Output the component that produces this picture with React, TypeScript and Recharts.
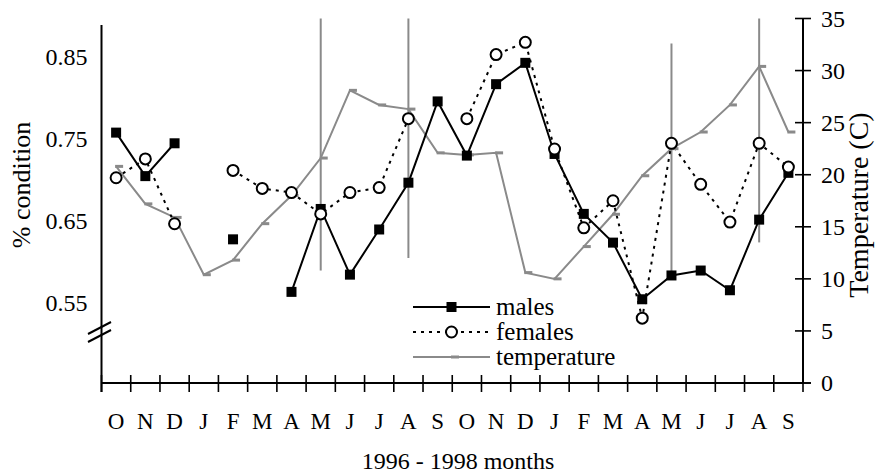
import React from 'react';
import { ComposedChart, Line, XAxis, YAxis, ReferenceLine, Legend } from 'recharts';

const months = [
  'Oct96', 'Nov96', 'Dec96', 'Jan97', 'Feb97', 'Mar97', 'Apr97', 'May97', 'Jun97', 'Jul97', 'Aug97', 'Sep97',
  'Oct97', 'Nov97', 'Dec97', 'Jan98', 'Feb98', 'Mar98', 'Apr98', 'May98', 'Jun98', 'Jul98', 'Aug98', 'Sep98',
];
const monthLetters = ['O', 'N', 'D', 'J', 'F', 'M', 'A', 'M', 'J', 'J', 'A', 'S', 'O', 'N', 'D', 'J', 'F', 'M', 'A', 'M', 'J', 'J', 'A', 'S'];

const males = [0.758, 0.705, 0.745, null, 0.628, null, 0.564, 0.665, 0.585, 0.64, 0.697, 0.796, 0.73, 0.817, 0.843, 0.732, 0.659, 0.624, 0.555, 0.584, 0.59, 0.566, 0.652, 0.709];
const females = [0.703, 0.726, 0.647, null, 0.712, 0.69, 0.685, 0.659, 0.685, 0.691, 0.775, null, 0.775, 0.853, 0.868, 0.738, 0.642, 0.675, 0.532, 0.745, 0.695, 0.649, 0.745, 0.716];
const temperature = [20.8, 17.2, 15.9, 10.4, 11.8, 15.3, 18.0, 21.6, 28.1, 26.7, 26.3, 22.1, 21.9, 22.1, 10.6, 10.0, 13.1, 16.2, 19.9, 22.5, 24.1, 26.7, 30.4, 24.1];

// vertical range lines on the temperature scale
const rangeMonths = ['May97', 'Aug97', 'May98', 'Aug98'];
const rangeLow = [10.8, 12.0, 10.3, 13.5];
const rangeHigh = [35, 35, 32.6, 35];

const condTicks = [0.55, 0.65, 0.75, 0.85];
const tempTicks = [0, 5, 10, 15, 20, 25, 30, 35];

const data = months.map((m, i) => ({
  idx: i,
  month: m,
  males: males[i],
  females: females[i],
  temperature: temperature[i],
}));
const monthIdx = months.map((_, i) => i);

const W = 877;
const H = 473;
const TOP = 18.5;
const BOTTOM = 383;
const LEFT_W = 101.5;
const RIGHT_W = 74;
const PLOT_W = W - LEFT_W - RIGHT_W;
const BAND = PLOT_W / months.length;
const FONT = "'Liberation Serif', 'DejaVu Serif', serif";
const GREY = '#8a8a8a';

const txt = (size: number) => ({ fontFamily: FONT, fontSize: size });

const MonthTick = (props: any) => {
  const { x, y, payload } = props;
  const i = payload.value;
  return (
    <text x={x} y={y + 46} textAnchor="middle" style={txt(23)} fill="#000">
      {monthLetters[i]}
    </text>
  );
};

const CondTick = (props: any) => {
  const { x, y, payload } = props;
  return (
    <text x={x} y={y + 8} textAnchor="end" style={txt(24)} fill="#000">
      {payload.value.toFixed(2)}
    </text>
  );
};

const TempTick = (props: any) => {
  const { x, y, payload } = props;
  return (
    <g>
      <line x1={x - 8} x2={x + 8} y1={y} y2={y} stroke="#000" strokeWidth={1.6} />
      <text x={x + 18} y={y + 8} textAnchor="start" style={txt(24)} fill="#000">
        {payload.value}
      </text>
    </g>
  );
};

const MaleDot = (props: any) => {
  const { cx, cy, value, index } = props;
  if (value == null || cx == null || cy == null) return <g key={`m-${index}`} />;
  return <rect key={`m-${index}`} x={cx - 5} y={cy - 5} width={10} height={10} fill="#000" />;
};

const FemaleDot = (props: any) => {
  const { cx, cy, value, index } = props;
  if (value == null || cx == null || cy == null) return <g key={`f-${index}`} />;
  return <circle key={`f-${index}`} cx={cx} cy={cy} r={5.5} fill="#fff" stroke="#000" strokeWidth={2} />;
};

const TempDot = (props: any) => {
  const { cx, cy, index } = props;
  if (cx == null || cy == null) return <g key={`t-${index}`} />;
  return <rect key={`t-${index}`} x={cx - 1} y={cy - 1.5} width={8} height={3} fill={GREY} />;
};

const legendOrder = ['males', 'females', 'temperature'];

const renderLegend = (props: any) => {
  const payload = props.payload || [];
  const items = legendOrder.map((k) => payload.find((p: any) => p.dataKey === k)).filter(Boolean);
  return (
    <svg width={230} height={80}>
      {items.map((item: any, i: number) => {
        const y = 17 + i * 25;
        const key = item.dataKey;
        return (
          <g key={key}>
            {key === 'males' && (
              <>
                <line x1={8} x2={85} y1={y} y2={y} stroke="#000" strokeWidth={2} />
                <rect x={41.5} y={y - 5} width={10} height={10} fill="#000" />
              </>
            )}
            {key === 'females' && (
              <>
                <line x1={8} x2={85} y1={y} y2={y} stroke="#000" strokeWidth={2} strokeDasharray="3 5" />
                <circle cx={46.5} cy={y} r={5.5} fill="#fff" stroke="#000" strokeWidth={2} />
              </>
            )}
            {key === 'temperature' && (
              <>
                <line x1={8} x2={85} y1={y} y2={y} stroke={GREY} strokeWidth={2} />
                <rect x={46} y={y - 1.5} width={8} height={3} fill={GREY} />
              </>
            )}
            <text x={91} y={y + 8} style={txt(25)} fill="#000">
              {item.value}
            </text>
          </g>
        );
      })}
    </svg>
  );
};

export default function App() {
  return (
    <div style={{ position: 'absolute', left: 0, top: 0, width: W, height: H, background: '#fff' }}>
      <ComposedChart width={W} height={H} data={data} margin={{ top: TOP, right: 0, bottom: 0, left: 0 }}>
        <XAxis
          dataKey="idx"
          type="number"
          domain={[-0.5, months.length - 0.5]}
          ticks={monthIdx}
          interval={0}
          allowDataOverflow
          height={H - BOTTOM}
          tickLine={false}
          tickSize={0}
          tickMargin={0}
          axisLine={false}
          tick={<MonthTick />}
          label={() => (
            <text x={458} y={469} textAnchor="middle" style={txt(24)} fill="#000">
              1996 - 1998 months
            </text>
          )}
        />
        <YAxis
          yAxisId="cond"
          width={LEFT_W}
          domain={[0.453, 0.897]}
          ticks={condTicks}
          allowDataOverflow
          tickLine={false}
          tickSize={6}
          tickMargin={8}
          axisLine={false}
          tick={<CondTick />}
          label={() => (
            <text x={30} y={185} transform="rotate(-90 30 185)" textAnchor="middle" style={txt(26)} fill="#000">
              % condition
            </text>
          )}
        />
        <YAxis
          yAxisId="temp"
          orientation="right"
          width={RIGHT_W}
          domain={[0, 35]}
          ticks={tempTicks}
          allowDataOverflow
          tickLine={false}
          tickSize={0}
          tickMargin={0}
          axisLine={{ stroke: '#000', strokeWidth: 2 }}
          tick={<TempTick />}
          label={() => (
            <text x={868} y={205} transform="rotate(-90 868 205)" textAnchor="middle" style={txt(28)} fill="#000">
              Temperature (C)
            </text>
          )}
        />
        {rangeMonths.map((m, i) => (
          <ReferenceLine
            key={m}
            yAxisId="temp"
            segment={[
              { x: months.indexOf(m), y: rangeLow[i] },
              { x: months.indexOf(m), y: rangeHigh[i] },
            ]}
            stroke={GREY}
            strokeWidth={2}
            ifOverflow="visible"
          />
        ))}
        <Line
          yAxisId="temp"
          dataKey="temperature"
          name="temperature"
          stroke={GREY}
          strokeWidth={2}
          dot={TempDot}
          activeDot={false}
          isAnimationActive={false}
        />
        <Line
          yAxisId="cond"
          dataKey="males"
          name="males"
          stroke="#000"
          strokeWidth={2}
          dot={MaleDot}
          activeDot={false}
          isAnimationActive={false}
        />
        <Line
          yAxisId="cond"
          dataKey="females"
          name="females"
          stroke="#000"
          strokeWidth={2}
          strokeDasharray="3 5"
          dot={FemaleDot}
          activeDot={false}
          isAnimationActive={false}
        />
        <Legend
          verticalAlign="middle"
          align="center"
          content={renderLegend}
          wrapperStyle={{ left: 405, top: 290, width: 230, height: 80 }}
        />
      </ComposedChart>
      {/* axis decorations: x baseline with category boundary ticks, left axis line and the scale break */}
      <svg
        width={W}
        height={H}
        style={{ position: 'absolute', left: 0, top: 0, pointerEvents: 'none' }}
      >
        <line x1={LEFT_W} x2={W - RIGHT_W} y1={BOTTOM} y2={BOTTOM} stroke="#000" strokeWidth={2} />
        <line x1={LEFT_W} x2={LEFT_W} y1={25} y2={BOTTOM + 9} stroke="#000" strokeWidth={2} />
        <line x1={W - RIGHT_W - 8} x2={W - RIGHT_W + 8} y1={BOTTOM} y2={BOTTOM} stroke="#000" strokeWidth={1.6} />
        {Array.from({ length: months.length + 1 }, (_, k) => (
          <line
            key={k}
            x1={LEFT_W + k * BAND}
            x2={LEFT_W + k * BAND}
            y1={BOTTOM - 8}
            y2={BOTTOM + 9}
            stroke="#000"
            strokeWidth={1.6}
          />
        ))}
        <line x1={88} y1={334} x2={111} y2={322} stroke="#000" strokeWidth={2} />
        <line x1={88} y1={342} x2={111} y2={330} stroke="#000" strokeWidth={2} />
      </svg>
    </div>
  );
}
